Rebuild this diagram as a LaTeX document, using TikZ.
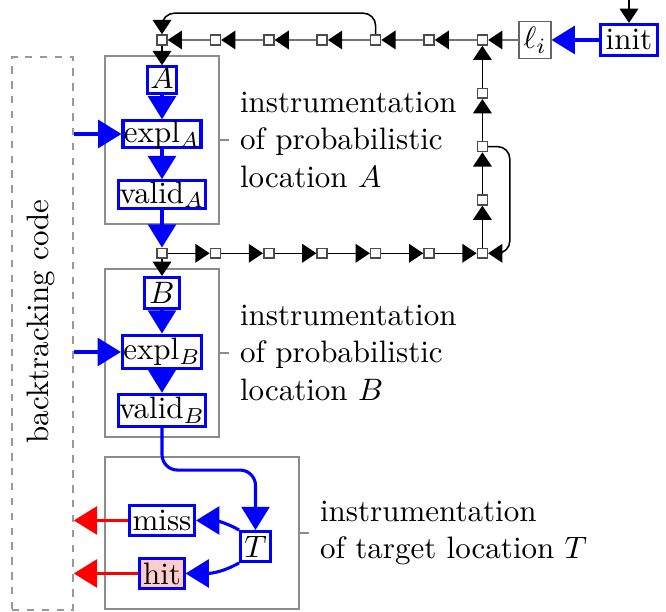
\documentclass[tikz,border=0pt]{standalone}
\usepackage{amsmath,amssymb}
\usepackage{tikz}
\usetikzlibrary{positioning,shapes,arrows.meta}

\begin{document}
\begin{tikzpicture}[x=0.3226pt, y=0.3226pt,
  cell/.style={rectangle, draw=black!70, fill=white, minimum size=3.2pt, inner sep=0pt, line width=0.5pt},
  loc/.style={rectangle, draw=blue, line width=1pt, fill=white, inner xsep=1pt, inner ysep=1pt},
  blk/.style={rectangle, draw=black!45, line width=0.5pt},
  note/.style={align=left},
  link/.style={line width=0.5pt, -{Triangle[length=4.6pt,width=6pt]}},
  glink/.style={draw=black!55, line width=0.5pt, -{Triangle[length=4.6pt,width=6pt,black]}},
  flow/.style={draw=blue, line width=1pt, -{Triangle[length=7.5pt,width=9pt]}},
  back/.style={draw=red, line width=1pt, -{Triangle[length=7.5pt,width=9pt]}}]
\useasboundingbox (0,0) rectangle (666,612);

% Backtracking code
\node (code) [rectangle, draw=black!40, line width=0.5pt, dash pattern=on 2.4pt off 2.4pt, minimum width=19.7pt, minimum height=178.4pt] at (42.5,278.5) {};
\node (codetext) [rotate=90] at (41,290.5) {backtracking code};

% Instrumentation blocks
\node (blkA) [blk, minimum width=36.8pt, minimum height=54.2pt] at (162,472) {};
\node (blkB) [blk, minimum width=36.8pt, minimum height=54.2pt] at (162,259) {};
\node (blkT) [blk, minimum width=62.6pt, minimum height=49pt] at (202,79) {};

% Annotations
\node (annA) [note, right=3pt of blkA] {instrumentation\\of probabilistic\\location $A$};
\node (annB) [note, right=3pt of blkB] {instrumentation\\of probabilistic\\location $B$};
\node (annT) [note, right=3pt of blkT] {instrumentation\\of target location $T$};
\draw[black!45, line width=0.5pt] (blkA.east) -- (annA.west);
\draw[black!45, line width=0.5pt] (blkB.east) -- (annB.west);
\draw[black!45, line width=0.5pt] (blkT.east) -- (annT.west);

% Entry
\coordinate (entry) at (629,612);
\node (init) [loc, minimum height=10pt, inner xsep=1.6pt] at (629,572) {init};
\node (li) [rectangle, draw=black!60, line width=0.5pt, minimum width=10.2pt, minimum height=11.9pt, inner sep=0.5pt] at (535,572) {$\ell_i$};

% Chain cells
\foreach \i in {1,...,7} {
  \node (t\i) [cell] at ({162+53.4*(\i-1)},572) {};
  \node (b\i) [cell] at ({162+53.4*(\i-1)},358.7) {};
}
\foreach \i in {1,2,3}
  \node (r\i) [cell] at (482.4,{572-53.3*\i}) {};

% Location A
\node (A) [loc, text height=6.3pt, text depth=0.6pt, inner ysep=0.8pt] at (162,532) {$A$};
\node (explA) [loc, inner xsep=0.3pt, text height=6.3pt, text depth=0.6pt, inner ysep=0.8pt] at (162,478) {expl$_A$};
\node (validA) [loc, inner xsep=0.3pt, text height=6.5pt, text depth=0.8pt, inner ysep=0.8pt] at (162,417.5) {valid$_A$};

% Location B
\node (B) [loc, minimum height=10pt, minimum width=11.3pt] at (162,319) {$B$};
\node (explB) [loc, inner xsep=0.3pt, minimum height=10.6pt] at (162,260) {expl$_B$};
\node (validB) [loc, inner xsep=0.3pt, minimum height=10.3pt] at (162,201.5) {valid$_B$};

% Target T
\node (T) [loc, minimum size=9.6pt, inner sep=0.5pt] at (255.5,65.5) {$T$};
\node (miss) [loc, minimum height=9.6pt] at (162,91.5) {miss};
\node (hit) [loc, fill=red!20, minimum height=9.6pt] at (162,38.5) {hit};

% Arrows
\draw[link] (entry) -- (init);
\draw[flow] (init) -- (li);
\draw[glink] (li) -- (t7);
\foreach \i/\j in {7/6,6/5,5/4,4/3,3/2,2/1}
  \draw[glink] (t\i) -- (t\j);
\draw[link, rounded corners=4pt] (t5.north) -- ++(0,6.8pt) -| (t1.north);
\draw[link] (t1) -- (A);
\draw[flow] (A) -- (explA);
\draw[flow] (explA) -- (validA);
\draw[flow] (validA) -- (b1);
\foreach \i/\j in {1/2,2/3,3/4,4/5,5/6,6/7}
  \draw[link] (b\i) -- (b\j);
\draw[link] (b7) -- (r3);
\draw[link] (r3) -- (r2);
\draw[link] (r2) -- (r1);
\draw[link] (r1) -- (t7);
\draw[link, rounded corners=4pt] (r2.east) -- ++(7pt,0) |- (b7.east);
\draw[link] (b1) -- (B);
\draw[flow] (B) -- (explB);
\draw[flow] (explB) -- (validB);
\draw[flow, rounded corners=5pt] (validB.south) -- ++(0,-13.5pt) -| (T.north);
\draw[flow] (T.north west) to[out=150, in=0] (miss.east);
\draw[flow] (T.south west) to[out=-150, in=0] (hit.east);

% Backtracking
\draw[flow] (code.east |- explA.west) -- (explA.west);
\draw[flow] (code.east |- explB.west) -- (explB.west);
\draw[back] (miss.west) -- (code.east |- miss.west);
\draw[back] (hit.west) -- (code.east |- hit.west);
\end{tikzpicture}
\end{document}
